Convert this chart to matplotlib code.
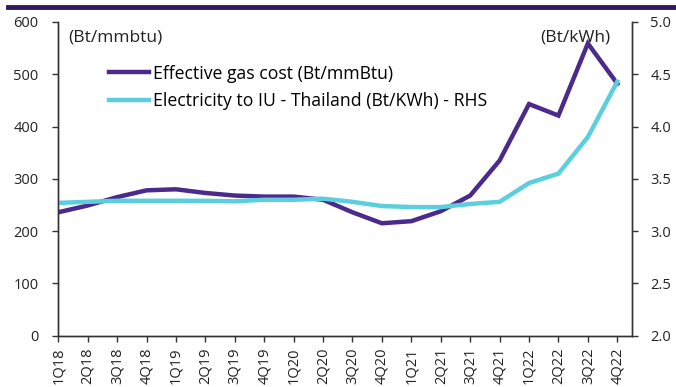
import numpy as np
import matplotlib
matplotlib.use("Agg")
from matplotlib import pyplot as plt
from matplotlib.lines import Line2D

plt.rcParams['font.family'] = ['Open Sans', 'DejaVu Sans']

# quarterly data, 1Q18 - 4Q22
quarters = ["1Q18", "2Q18", "3Q18", "4Q18",
            "1Q19", "2Q19", "3Q19", "4Q19",
            "1Q20", "2Q20", "3Q20", "4Q20",
            "1Q21", "2Q21", "3Q21", "4Q21",
            "1Q22", "2Q22", "3Q22", "4Q22"]
gas_cost = [236, 249, 265, 278, 280, 273, 268, 266, 266, 260,
            236, 215, 219, 238, 268, 335, 443, 421, 559, 482]
elec_iu = [3.27, 3.28, 3.29, 3.29, 3.29, 3.29, 3.285, 3.30, 3.30, 3.31,
           3.28, 3.24, 3.23, 3.23, 3.26, 3.28, 3.46, 3.55, 3.90, 4.43]

purple = "#4b2a8c"
cyan = "#5bcfdd"
axis_col = "#333333"
txt_col = "#222222"

fig = plt.figure(figsize=(6.76, 3.87), dpi=100)
ax = fig.add_axes([0.0862, 0.1326, 0.8487, 0.8106])
ax2 = ax.twinx()

x = np.arange(len(quarters))
ax.plot(x, gas_cost, color=purple, lw=3.2, solid_joinstyle="miter")
ax2.plot(x, elec_iu, color=cyan, lw=3.2, solid_joinstyle="miter")

ax.set_xlim(0, len(quarters) - 0.5)
ax.set_ylim(0, 600)
ax.set_yticks(range(0, 601, 100))
ax2.set_ylim(2.0, 5.0)
ax2.set_yticks(np.arange(2.0, 5.01, 0.5))
ax2.set_yticklabels(["%.1f" % v for v in np.arange(2.0, 5.01, 0.5)])

ax.set_xticks(x)
ax.set_xticklabels(quarters, rotation=90, fontsize=10.5, color=txt_col)

for a in (ax, ax2):
    a.spines["top"].set_visible(False)
    for s in ("left", "right", "bottom"):
        a.spines[s].set_color(axis_col)
        a.spines[s].set_linewidth(1.0)
    a.tick_params(axis="both", direction="out", length=4.2, width=1,
                  color=axis_col, labelsize=10.5, labelcolor=txt_col)
ax.tick_params(axis="y", pad=10)
ax2.tick_params(axis="y", pad=9)
ax.tick_params(axis="x", pad=4)

ax.text(0.017, 0.975, "(Bt/mmbtu)", transform=ax.transAxes, fontsize=12.5,
        va="top", ha="left", color=txt_col)
ax.text(0.962, 0.975, "(Bt/kWh)", transform=ax.transAxes, fontsize=12.5,
        va="top", ha="right", color=txt_col)

handles = [Line2D([], [], color=purple, lw=3.2),
           Line2D([], [], color=cyan, lw=3.2)]
ax.legend(handles, ["Effective gas cost (Bt/mmBtu)",
                    "Electricity to IU - Thailand (Bt/KWh) - RHS"],
          loc="upper left", bbox_to_anchor=(0.06, 0.915), frameon=False,
          fontsize=12.7, handlelength=2.3, handletextpad=0.2,
          labelspacing=0.55)

# title rule at the top of the exhibit
fig.add_artist(Line2D([0.012, 1.0], [0.982, 0.982], color="#2e1a5c",
                      lw=3.5, transform=fig.transFigure))

fig.savefig("out.png", dpi=100)
